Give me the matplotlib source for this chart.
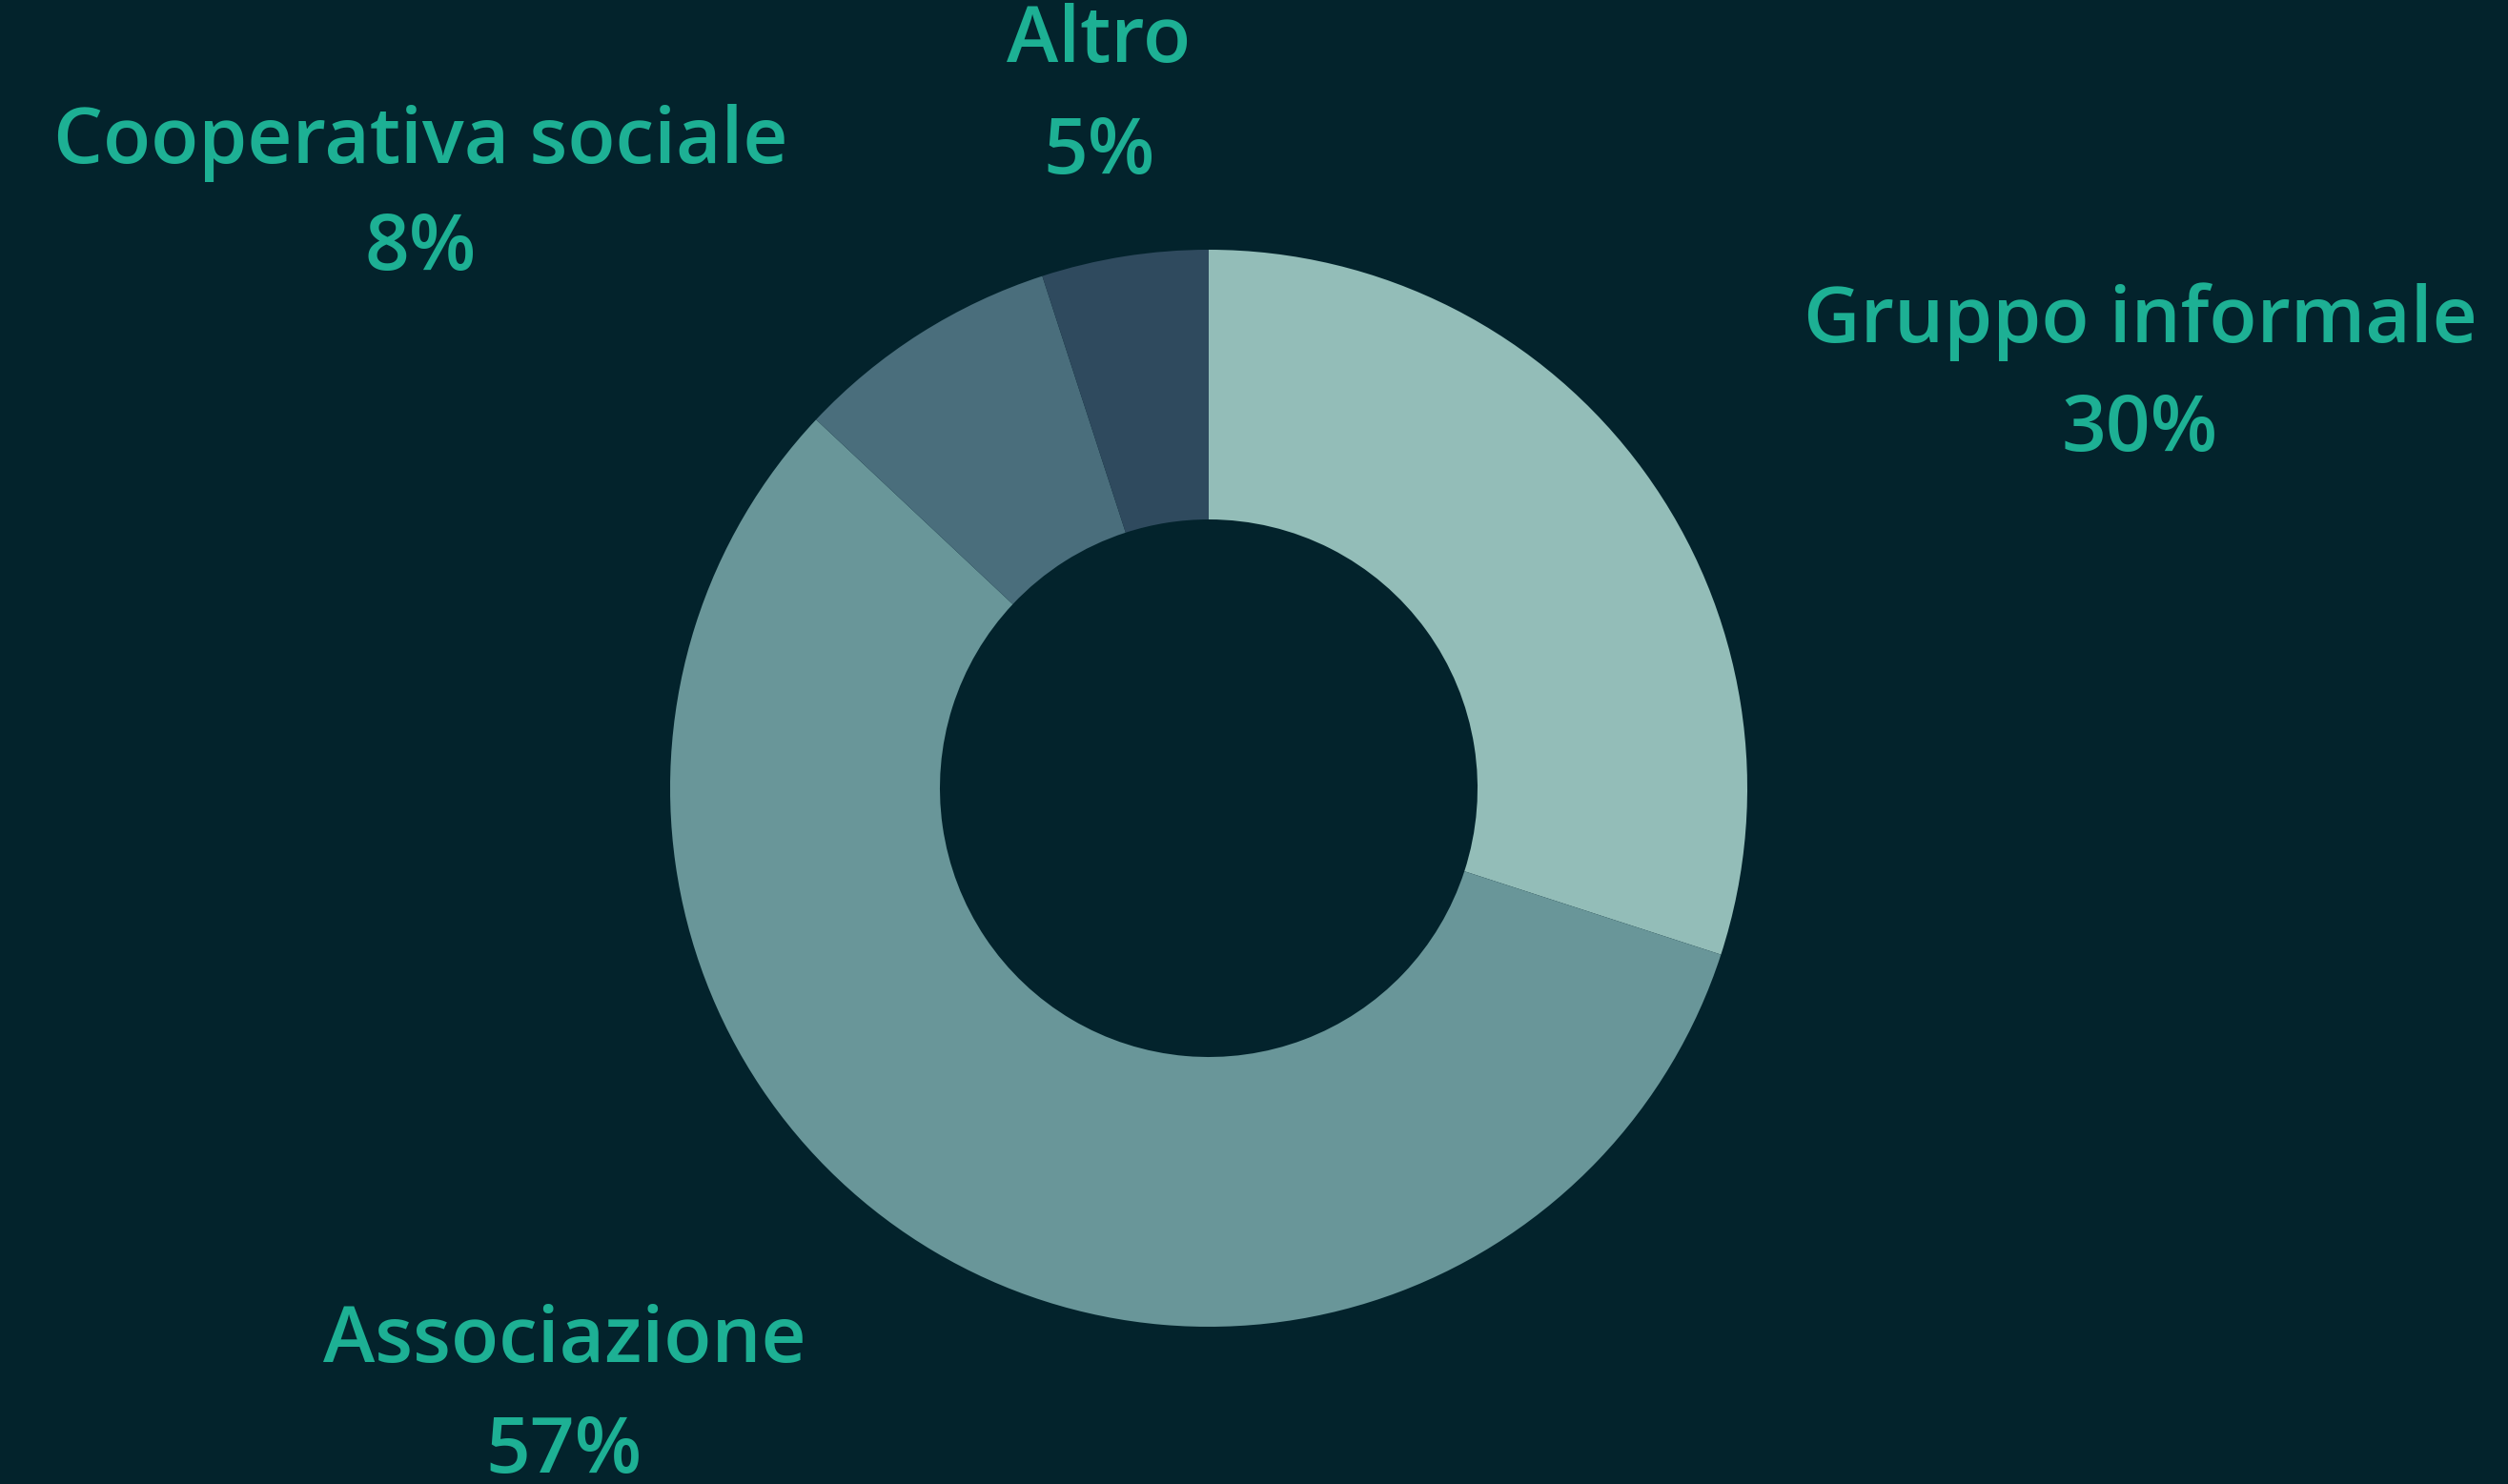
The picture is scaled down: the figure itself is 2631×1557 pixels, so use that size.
import matplotlib.pyplot as plt

categories = ['Gruppo informale', 'Associazione', 'Cooperativa sociale', 'Altro']
values = [30, 57, 8, 5]
colors = ['#93bdb8', '#699699', '#4a6e7c', '#2f4a5e']

BG = '#03232c'
TXT = '#1db094'
W, H = 2631, 1557

fig = plt.figure(figsize=(W / 100, H / 100), dpi=100, facecolor=BG)
ax = fig.add_axes([0, 0, 1, 1])
ax.set_facecolor(BG)

ax.pie(values, colors=colors, startangle=90, counterclock=False,
       center=(1268, H - 827), radius=565, frame=True,
       wedgeprops=dict(width=283, linewidth=0))
ax.set_xlim(0, W)
ax.set_ylim(0, H)
ax.set_aspect('equal')
ax.axis('off')

# label positions (pixel coords from top-left)
label_pos = [(2245, 338, 452), (592, 1408, 1524), (441, 150, 262), (1153, 44, 161)]
for cat, v, (x, y1, y2) in zip(categories, values, label_pos):
    ax.text(x, H - y1, cat, ha='center', va='center', color=TXT,
            fontsize=59, fontfamily='Open Sans', fontweight='semibold')
    ax.text(x, H - y2, f'{v}%', ha='center', va='center', color=TXT,
            fontsize=59, fontfamily='Open Sans', fontweight='semibold')

fig.savefig('out.png', dpi=100, facecolor=BG)
